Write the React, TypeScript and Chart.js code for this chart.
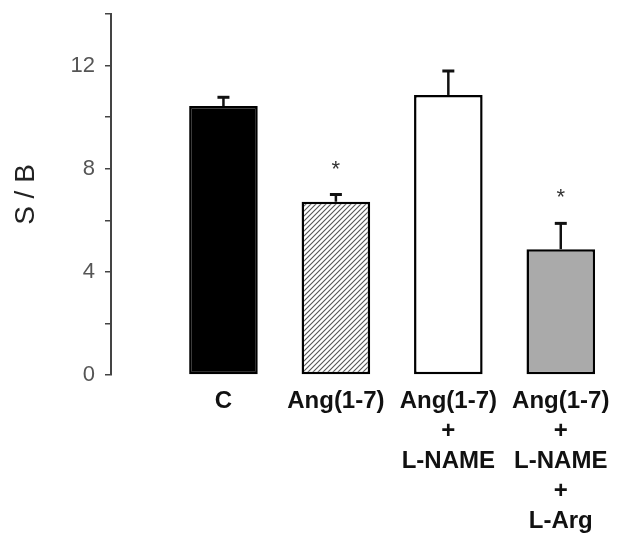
import React, { useEffect, useRef } from "react";
import { Chart, registerables } from "chart.js";

Chart.register(...registerables);

// ---- data ----
const categories: string[][] = [
  ["C"],
  ["Ang(1-7)"],
  ["Ang(1-7)", "+", "L-NAME"],
  ["Ang(1-7)", "+", "L-NAME", "+", "L-Arg"],
];
const means = [10.43, 6.72, 10.86, 4.88];
const sems = [0.34, 0.28, 0.93, 1.0];
const significant = [false, true, false, true];
const yTickLabels = [0, 4, 8, 12];
const yTitle = "S / B";

const FONT = "'Liberation Sans', Arial, Helvetica, sans-serif";

function makeHatch(ctx: CanvasRenderingContext2D): CanvasPattern | string {
  const s = 5;
  const c = document.createElement("canvas");
  c.width = s;
  c.height = s;
  const g = c.getContext("2d");
  if (!g) return "#ccc";
  g.fillStyle = "#ffffff";
  g.fillRect(0, 0, s, s);
  g.strokeStyle = "#555555";
  g.lineWidth = 1.1;
  g.beginPath();
  g.moveTo(0, s);
  g.lineTo(s, 0);
  g.moveTo(-1, 1);
  g.lineTo(1, -1);
  g.moveTo(s - 1, s + 1);
  g.lineTo(s + 1, s - 1);
  g.stroke();
  return ctx.createPattern(c, "repeat") || "#ccc";
}

const errorBarPlugin = {
  id: "errorBars",
  afterDatasetsDraw(chart: any) {
    const ctx: CanvasRenderingContext2D = chart.ctx;
    const xs = chart.scales.x;
    const ys = chart.scales.y;
    ctx.save();
    ctx.strokeStyle = "#111";
    means.forEach((m, i) => {
      const px = xs.getPixelForValue(i);
      const y0 = ys.getPixelForValue(m);
      const y1 = ys.getPixelForValue(m + sems[i]);
      ctx.lineWidth = 2.5;
      ctx.beginPath();
      ctx.moveTo(px, y0);
      ctx.lineTo(px, y1);
      ctx.stroke();
      ctx.lineWidth = 3;
      ctx.beginPath();
      ctx.moveTo(px - 6, y1);
      ctx.lineTo(px + 6, y1);
      ctx.stroke();
      if (significant[i]) {
        ctx.fillStyle = "#333";
        ctx.font = `22px ${FONT}`;
        ctx.textAlign = "center";
        ctx.textBaseline = "middle";
        ctx.fillText("*", px, y1 - 25);
      }
    });
    ctx.restore();
  },
};

export default function App() {
  const ref = useRef<HTMLCanvasElement | null>(null);

  useEffect(() => {
    const canvas = ref.current;
    if (!canvas) return;
    const ctx = canvas.getContext("2d");
    if (!ctx) return;
    const hatch = makeHatch(ctx);

    const chart = new Chart(ctx, {
      type: "bar",
      data: {
        datasets: [
          {
            data: means.map((m, i) => ({ x: i, y: m })),
            backgroundColor: ["#000000", hatch, "#ffffff", "#aaaaaa"],
            borderColor: "#000000",
            borderWidth: 2.5,
            borderSkipped: false,
            barPercentage: 0.61,
            categoryPercentage: 1,
          } as any,
        ],
      },
      options: {
        animation: false,
        responsive: false,
        layout: { padding: { top: 14, right: 8, left: 0, bottom: 0 } },
        plugins: {
          legend: { display: false },
          tooltip: { enabled: false },
        },
        scales: {
          x: {
            type: "linear",
            offset: false,
            min: -1,
            max: 3.5,
            afterFit: (s: any) => {
              s.height = 161;
              s.paddingLeft = 0;
              s.paddingRight = 0;
            },
            grid: { display: false, drawTicks: false, offset: false },
            border: { display: false },
            ticks: {
              stepSize: 1,
              autoSkip: false,
              maxRotation: 0,
              includeBounds: false,
              padding: 11,
              color: "#111",
              font: { family: FONT, size: 24, weight: "bold", lineHeight: 1.25 },
              callback: (v: any) =>
                Number.isInteger(v) && v >= 0 && v < categories.length
                  ? categories[v]
                  : "",
            },
          },
          y: {
            min: 0,
            max: 14,
            afterFit: (s: any) => {
              s.width = 111;
              s.paddingTop = 0;
              s.paddingBottom = 0;
            },
            border: { display: true, color: "#444", width: 2 },
            grid: {
              display: true,
              drawOnChartArea: false,
              drawTicks: true,
              tickLength: 6,
              color: "#444",
              lineWidth: 1.5,
            },
            ticks: {
              stepSize: 2,
              padding: 10,
              color: "#555",
              font: { family: FONT, size: 22 },
              callback: (v: any) => (yTickLabels.includes(v) ? String(v) : ""),
            },
            title: {
              display: true,
              text: yTitle,
              color: "#222",
              font: { family: FONT, size: 28 },
              padding: { top: 9, bottom: 0 },
            },
          },
        },
      } as any,
      plugins: [errorBarPlugin],
    });

    return () => chart.destroy();
  }, []);

  return (
    <div style={{ position: "absolute", left: 0, top: 0, width: 625, height: 536 }}>
      <canvas ref={ref} width={625} height={536} style={{ display: "block" }} />
    </div>
  );
}
